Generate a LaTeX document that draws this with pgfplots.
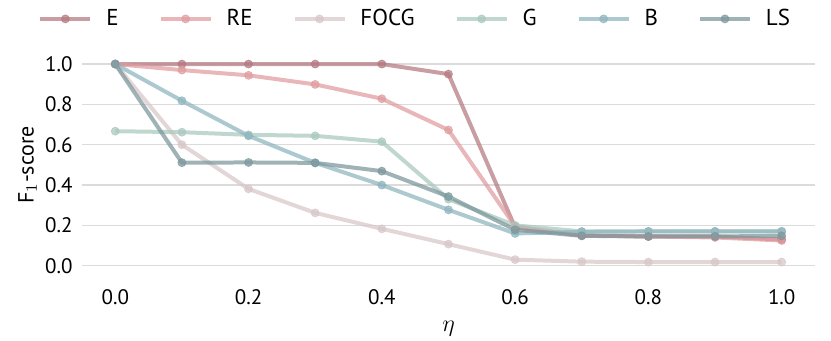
\documentclass[border=0pt]{standalone}
\usepackage{fontspec}
\setmainfont{PT Sans}
\usepackage{pgfplots}
\pgfplotsset{compat=1.18}

\definecolor{cE}{RGB}{180,120,128}
\definecolor{cRE}{RGB}{224,155,158}
\definecolor{cFOCG}{RGB}{216,198,200}
\definecolor{cG}{RGB}{168,200,190}
\definecolor{cB}{RGB}{142,180,190}
\definecolor{cLS}{RGB}{122,150,155}

\begin{document}
\fontsize{10.5}{12}\selectfont
\begin{tikzpicture}
\begin{axis}[
    scale only axis,
    width=366.8pt, height=111pt,
    xmin=-0.05, xmax=1.05,
    ymin=-0.05, ymax=1.05,
    axis line style={draw=none},
    major tick length=0pt,
    xtick={0,0.2,0.4,0.6,0.8,1.0},
    ytick={0,0.2,0.4,0.6,0.8,1.0},
    xticklabel style={yshift=-3pt, /pgf/number format/.cd, fixed, fixed zerofill, precision=1},
    yticklabel style={xshift=-1pt, /pgf/number format/.cd, fixed, fixed zerofill, precision=1},
    /pgf/number format/assume math mode=true,
    ticklabel style={font=\fontsize{10.5}{12}\selectfont},
    ymajorgrids,
    grid style={draw=black!14, line width=0.6pt},
    xlabel={$\eta$},
    ylabel={F$_1$-score},
    xlabel style={font=\fontsize{13}{14}\selectfont, yshift=-1pt},
    ylabel style={font=\fontsize{11}{12}\selectfont, yshift=-3pt},
    every axis plot/.append style={line width=2pt, opacity=0.72, mark=*, mark size=2pt,
        mark options={solid, line width=0.4pt}},
    legend columns=6,
    legend style={draw=none, fill=none, at={(0.456,1.158)}, anchor=center,
        /tikz/every odd column/.append style={column sep=5pt},
        /tikz/every even column/.append style={column sep=18pt},
        font=\fontsize{11.5}{13}\selectfont},
    legend image code/.code={
        \draw[#1, mark repeat=2, mark phase=2] plot coordinates {(0pt,0pt) (12.5pt,0pt) (25pt,0pt)};
    },
]
\addplot[color=cE] coordinates {
    (0.0,1.0) (0.1,1.0) (0.2,1.0) (0.3,1.0) (0.4,1.0) (0.5,0.95)
    (0.6,0.19) (0.7,0.15) (0.8,0.145) (0.9,0.145) (1.0,0.13)};
\addlegendentry{E}
\addplot[color=cRE] coordinates {
    (0.0,1.0) (0.1,0.970) (0.2,0.944) (0.3,0.899) (0.4,0.828) (0.5,0.673)
    (0.6,0.195) (0.7,0.15) (0.8,0.145) (0.9,0.14) (1.0,0.125)};
\addlegendentry{RE}
\addplot[color=cFOCG] coordinates {
    (0.0,1.0) (0.1,0.60) (0.2,0.381) (0.3,0.262) (0.4,0.183) (0.5,0.107)
    (0.6,0.03) (0.7,0.02) (0.8,0.018) (0.9,0.018) (1.0,0.018)};
\addlegendentry{FOCG}
\addplot[color=cG] coordinates {
    (0.0,0.667) (0.1,0.662) (0.2,0.649) (0.3,0.644) (0.4,0.615) (0.5,0.33)
    (0.6,0.20) (0.7,0.17) (0.8,0.17) (0.9,0.17) (1.0,0.17)};
\addlegendentry{G}
\addplot[color=cB] coordinates {
    (0.0,1.0) (0.1,0.818) (0.2,0.644) (0.3,0.51) (0.4,0.40) (0.5,0.277)
    (0.6,0.16) (0.7,0.168) (0.8,0.17) (0.9,0.17) (1.0,0.17)};
\addlegendentry{B}
\addplot[color=cLS] coordinates {
    (0.0,1.0) (0.1,0.511) (0.2,0.512) (0.3,0.51) (0.4,0.469) (0.5,0.343)
    (0.6,0.178) (0.7,0.148) (0.8,0.145) (0.9,0.145) (1.0,0.148)};
\addlegendentry{LS}
\end{axis}
\pgfresetboundingbox
\path ([xshift=-41pt,yshift=-32.5pt]current axis.south west)
    rectangle ([xshift=8pt,yshift=27pt]current axis.north east);
\end{tikzpicture}
\end{document}
